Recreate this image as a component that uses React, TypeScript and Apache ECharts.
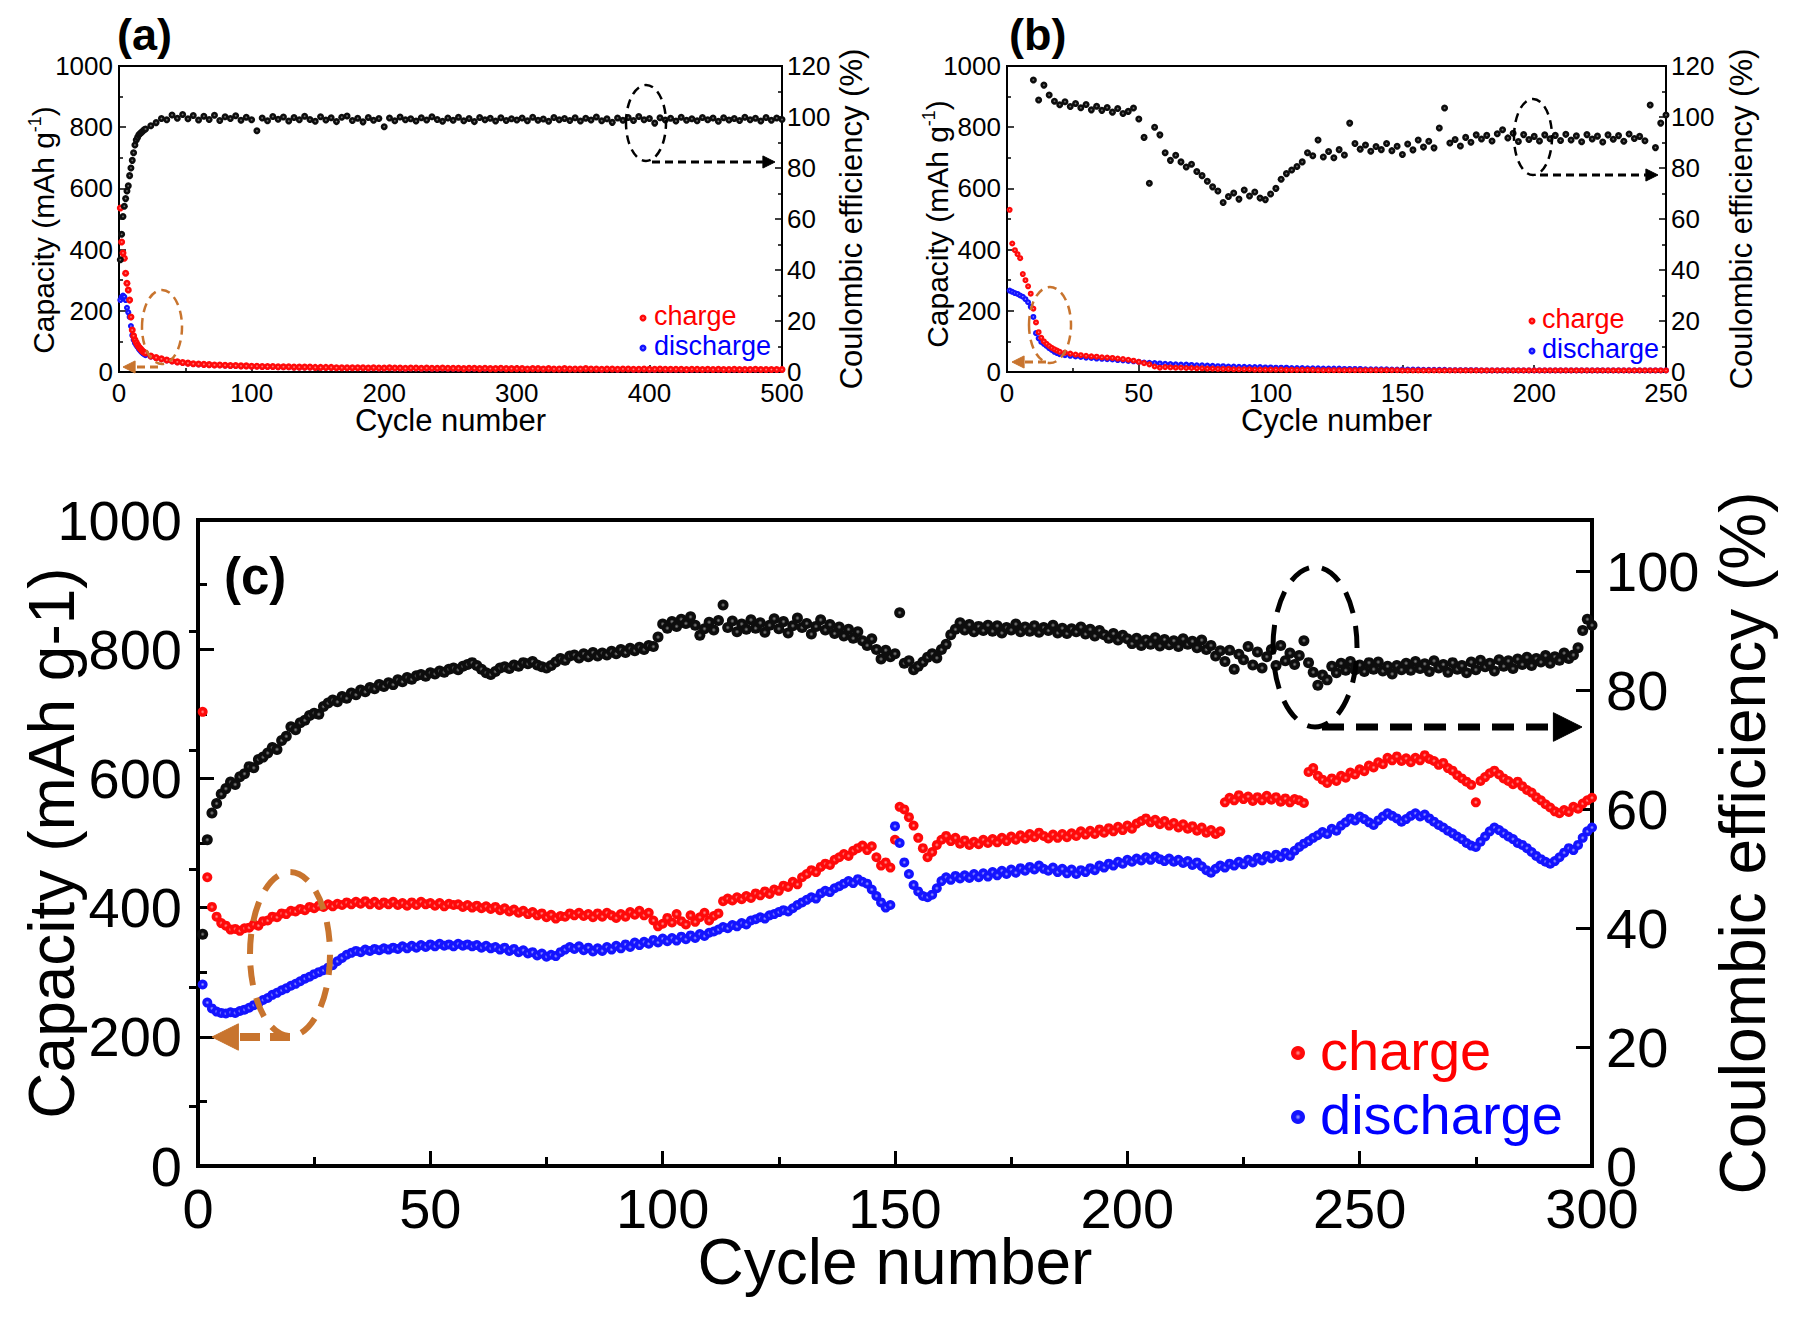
import React, { useEffect, useRef } from "react";
import * as echarts from "echarts";

// ---------------- Panel (a): 500 cycles ----------------
const aEarlyCE = [44, 54, 61, 65, 68, 71, 73, 77, 80, 83, 86, 89, 91, 92, 93, 93.5, 94, 94.5, 95, 95.3];
const aLateCE = [
  96.6, 97.8, 99.4, 98.9, 100.8, 99.5, 101.0, 99.3, 100.6, 98.8,
  100.3, 99.0, 100.7, 98.6, 100.1, 99.4, 100.5, 98.7, 99.9, 98.9,
  94.6, 99.6, 98.5, 100.2, 99.1, 100.0, 98.4, 99.8, 98.9, 100.3,
  99.0, 98.3, 100.1, 98.8, 99.7, 98.2, 99.9, 100.4, 98.6, 99.5,
  98.1, 99.8, 98.7, 99.4, 96.2, 99.6, 98.5, 100.0, 98.9, 99.3,
  98.4, 99.7, 98.8, 100.1, 99.0, 98.3, 99.6, 98.7, 99.9, 98.5,
  99.4, 98.2, 99.8, 98.9, 99.5, 98.4, 99.7, 98.6, 99.3, 98.8,
  99.6, 98.5, 99.9, 98.7, 99.2, 98.3, 99.8, 98.9, 99.4, 98.6,
  99.7, 98.4, 99.5, 98.8, 100.0, 98.5, 99.3, 97.9, 99.6, 98.7,
  99.8, 98.6, 100.2, 98.9, 99.4, 97.6, 99.7, 98.8, 99.5, 98.4,
  99.9, 98.7, 99.3, 98.5, 99.8, 98.9, 99.6, 98.3, 99.7, 98.8,
  99.4, 98.6, 99.9, 98.9, 99.5, 98.4, 99.8, 98.7, 99.6, 99.0,
];
const aEarlyCharge = [536, 425, 389, 372, 323, 290, 268, 235, 180, 137, 118, 105, 96, 88, 82, 77, 72, 67, 64, 62];
const aLateCharge = [
  52, 47, 43, 39, 36, 33, 31, 29, 27, 26,
  25, 24, 23, 23, 22, 21, 21, 20, 20, 19,
  19, 18, 18, 18, 17, 17, 17, 16, 16, 16,
  16, 15, 15, 15, 15, 14, 14, 14, 14, 14,
  14, 13, 14, 13, 13, 14, 13, 13, 12, 13,
  13, 12, 13, 12, 12, 13, 12, 12, 12, 11,
  12, 12, 11, 12, 11, 11, 12, 11, 11, 11,
  11, 10, 11, 11, 10, 11, 10, 10, 11, 10,
  10, 10, 11, 10, 10, 9, 10, 10, 9, 10,
  10, 9, 9, 10, 9, 9, 10, 9, 9, 9,
  9, 8, 9, 9, 8, 9, 8, 9, 8, 8,
  9, 8, 8, 8, 9, 8, 8, 8, 8, 8,
];
const aEarlyDischarge = [235, 245, 250, 246, 235, 210, 195, 180, 150, 120, 105, 95, 88, 82, 75, 70, 65, 61, 58, 55];
const aLateDischarge = [
  50, 46, 42, 38, 35, 32, 30, 28, 26, 25,
  24, 23, 22, 22, 21, 20, 20, 19, 19, 18,
  18, 17, 17, 17, 16, 16, 16, 15, 15, 15,
  15, 14, 14, 14, 14, 13, 13, 13, 13, 13,
  13, 12, 13, 12, 12, 13, 12, 12, 11, 12,
  12, 11, 12, 11, 11, 12, 11, 11, 11, 10,
  11, 11, 10, 11, 10, 10, 11, 10, 10, 10,
  10, 9, 10, 10, 9, 10, 9, 9, 10, 9,
  9, 9, 10, 9, 9, 8, 9, 9, 8, 9,
  9, 8, 8, 9, 8, 8, 9, 8, 8, 8,
  8, 7, 8, 8, 7, 8, 7, 8, 7, 7,
  8, 7, 7, 7, 8, 7, 7, 7, 7, 7,
];

// ---------------- Panel (b): 250 cycles ----------------
const bCE = [
  114.5, 106.7, 112.5, 108.6, 106.2, 104.8, 106.0, 104.1, 105.3, 103.6,
  104.9, 102.8, 104.2, 102.6, 103.7, 101.9, 103.3, 101.4, 102.2, 103.5,
  99.2, 92.0, 74.0, 96.0, 93.0, 86.0, 83.0, 85.0, 82.4, 80.4,
  81.5, 78.6, 77.0, 74.8, 72.6, 71.0, 66.5, 68.8, 70.2, 67.8,
  71.4, 69.0, 70.6, 68.2, 67.6, 69.8, 72.0, 75.6, 77.8, 79.2,
  80.6, 82.4, 86.0, 84.8, 91.0, 84.3, 86.5, 84.0, 87.2, 85.1,
  97.6, 89.6, 87.4, 89.0, 86.6, 88.4, 87.2, 89.6, 86.8, 88.5,
  85.3, 89.4, 87.1, 91.0, 88.2, 90.5, 87.9, 95.7, 103.5, 89.8,
  91.2, 88.6, 92.0, 90.1, 93.0, 91.4, 92.8, 90.6, 93.4, 95.0,
  91.8, 93.6, 90.4, 93.1, 91.2, 92.4, 90.6, 93.0, 91.5, 92.8,
  90.8, 93.2, 91.0, 92.6, 90.3, 93.1, 91.4, 92.5, 90.2, 93.0,
  91.3, 92.7, 90.5, 93.3, 91.6, 92.4, 90.7, 104.7, 88.0, 97.6,
  100.8,
];
const bEarlyCharge = [530, 420, 398, 385, 372, 320, 300, 280, 256, 207, 162, 130, 112, 100, 92, 85, 79, 74, 70, 66];
const bLateCharge = [
  63, 60, 57, 55, 53, 51, 50, 48, 47, 46,
  44, 42, 40, 37, 33, 29, 25, 18, 14, 16,
  15, 14, 14, 13, 13, 12, 12, 11, 11, 10,
  10, 10, 9, 9, 9, 9, 8, 8, 8, 8,
  8, 8, 7, 7, 7, 7, 7, 7, 6, 6,
  6, 6, 6, 6, 6, 6, 6, 6, 6, 6,
  6, 6, 6, 6, 5, 5, 5, 5, 5, 5,
  5, 5, 5, 5, 5, 5, 5, 5, 5, 5,
  5, 5, 5, 5, 5, 5, 5, 5, 5, 5,
  5, 5, 5, 5, 5, 5, 5, 5, 5, 5,
  5, 5, 5, 5, 5, 5, 5, 5, 5, 5,
  5, 5, 5, 5, 5,
];
const bEarlyDischarge = [266, 262, 258, 255, 250, 246, 238, 228, 213, 180, 127, 110, 98, 92, 85, 78, 72, 66, 62, 58];
const bLateDischarge = [
  55, 53, 51, 49, 47, 46, 44, 43, 42, 41,
  39, 38, 36, 35, 33, 31, 30, 29, 28, 27,
  26, 25, 24, 24, 23, 22, 22, 21, 20, 19,
  19, 18, 18, 17, 17, 16, 16, 16, 15, 15,
  14, 14, 14, 13, 13, 13, 12, 12, 12, 11,
  11, 11, 11, 10, 10, 10, 10, 9, 9, 9,
  9, 9, 8, 8, 8, 8, 8, 8, 7, 7,
  7, 7, 7, 6, 6, 6, 6, 6, 6, 5,
  5, 5, 5, 5, 5, 5, 5, 5, 5, 5,
  5, 5, 5, 5, 5, 5, 5, 5, 5, 5,
  5, 5, 5, 5, 5, 5, 5, 5, 5, 5,
  5, 5, 5, 5, 5,
];

// ---------------- Panel (c): 300 cycles, one value per cycle ----------------
const cCharge = [
  703, 447, 401, 386, 376, 372, 366, 367, 364, 368,
  369, 374, 372, 379, 380, 386, 385, 391, 390, 395,
  394, 398, 396, 401, 399, 403, 401, 405, 402, 406,
  404, 408, 405, 409, 406, 410, 405, 409, 404, 408,
  405, 409, 404, 407, 403, 408, 404, 409, 405, 407,
  403, 407, 402, 406, 404, 405, 401, 404, 400, 403,
  399, 402, 398, 401, 396, 399, 394, 397, 392, 395,
  390, 393, 388, 391, 385, 389, 383, 387, 386, 391,
  388, 392, 387, 390, 385, 391, 386, 392, 388, 384,
  390, 386, 393, 389, 395, 388, 392, 380, 371, 375,
  384, 377, 390, 379, 374, 388, 378, 385, 392, 380,
  387, 391, 410, 414, 411, 416, 413, 418, 415, 422,
  419, 425, 421, 428, 426, 434, 432, 440, 436, 447,
  452, 458, 455, 463, 468, 466, 474, 478, 483, 480,
  488, 492, 496, 489, 495, 478, 465, 470, 462, 505,
  556, 552, 540, 527, 508, 492, 478, 486, 497, 505,
  511, 503, 508, 499, 504, 497, 502, 498, 505, 500,
  506, 501, 508, 503, 510, 505, 512, 507, 514, 509,
  516, 511, 507, 513, 508, 514, 509, 515, 511, 518,
  513, 519, 514, 521, 516, 523, 518, 525, 520, 527,
  522, 530, 534, 538, 532, 536, 529, 534, 527, 531,
  524, 529, 522, 526, 519, 524, 516, 520, 514, 518,
  563, 570, 566, 574, 568, 572, 565, 571, 566, 573,
  567, 571, 564, 569, 563, 568, 566, 562, 610, 616,
  604, 598, 593, 600, 596, 604, 601, 609, 606, 614,
  611, 620, 617, 625, 622, 632, 628, 634, 627, 631,
  625, 632, 628, 636, 630, 627, 621, 624, 616, 612,
  605, 600, 595, 590, 563, 596, 602, 608, 612, 606,
  600, 596, 591, 595, 588, 582, 578, 571, 566, 560,
  555, 549, 546, 551, 548, 556, 553, 561, 566, 570,
];
const cDischarge = [
  281, 253, 244, 239, 237, 236, 238, 237, 240, 242,
  245, 249, 252, 257, 260, 265, 268, 272, 275, 279,
  282, 286, 290, 293, 297, 300, 303, 307, 311, 317,
  322, 327, 330, 333, 331, 335, 333, 336, 334, 337,
  335, 338, 336, 340, 337, 341, 338, 342, 339, 343,
  340, 344, 341, 343, 340, 344, 341, 343, 340, 342,
  338, 341, 337, 339, 335, 338, 333, 336, 331, 334,
  329, 331, 326, 329, 324, 327, 325, 331, 335, 339,
  336, 340, 334, 338, 332, 337, 333, 339, 335, 341,
  337, 343, 339, 346, 342, 347, 344, 350, 346, 352,
  348, 353, 349, 355, 351, 357, 353, 359, 356, 361,
  363, 366, 370, 368, 373, 371, 376, 374, 380, 382,
  385, 383, 388, 390, 393, 396, 394, 399, 404, 408,
  412, 416, 414, 422, 426, 424, 430, 433, 437, 441,
  438, 444, 440, 437, 428, 418, 408, 400, 404, 526,
  500, 470, 452, 435, 425, 418, 416, 420, 430, 441,
  447, 443, 449, 445, 450, 446, 452, 447, 453, 448,
  455, 450, 457, 452, 459, 454, 461, 457, 463, 459,
  465, 460, 457, 462, 455, 460, 453, 459, 452, 458,
  455, 461, 458, 465, 462, 468, 465, 471, 468, 474,
  471, 476, 473, 478, 474, 479, 475, 472, 476, 471,
  474, 469, 472, 466, 470, 464, 458, 454, 460, 465,
  462, 468, 465, 471, 467, 474, 470, 477, 473, 480,
  476, 482, 478, 485, 480, 488, 494, 499, 503, 508,
  512, 517, 514, 522, 519, 527, 532, 538, 535, 541,
  537, 532, 528, 535, 541, 546, 542, 538, 533, 537,
  542, 546, 541, 544, 538, 533, 528, 524, 519, 515,
  510, 506, 500, 496, 494, 502, 510, 518, 524, 520,
  515, 510, 506, 500, 497, 492, 486, 480, 475, 471,
  468, 472, 478, 485, 492, 489, 497, 508, 518, 524,
];
const cCE = [
  39.0, 54.9, 59.4, 61.0, 62.6, 63.5, 64.6, 64.2, 65.5, 66.0,
  67.2, 67.0, 68.4, 68.8, 69.5, 70.4, 70.1, 71.6, 72.3, 73.9,
  73.4, 74.6, 75.0, 75.8, 76.2, 76.0, 77.3, 77.9, 78.4, 78.1,
  79.0, 78.7, 79.6, 79.3, 80.1, 79.8, 80.5, 80.3, 81.0, 80.7,
  81.3, 81.0, 81.8, 81.5, 82.2, 81.9, 82.5, 82.7, 82.4, 83.0,
  82.8, 83.3, 83.1, 83.6, 83.8, 83.5, 84.1, 84.4, 84.7, 84.2,
  83.6, 83.0, 82.7, 83.2, 83.8, 84.0, 83.7, 84.3, 84.1, 84.7,
  84.5, 84.9, 84.3, 84.0, 83.8, 84.2, 84.8, 85.4, 85.1, 85.8,
  86.0, 85.5, 86.2, 85.7, 86.4, 85.8, 86.3, 86.0, 86.6, 86.2,
  86.9, 86.4, 87.1, 86.7, 87.3, 86.9, 87.6, 87.4, 89.0, 91.2,
  90.5, 91.6, 90.8, 92.0, 91.3, 92.4, 91.0, 89.3, 90.4, 91.5,
  90.2, 91.8, 94.4, 90.6, 91.7, 89.9, 91.2, 90.3, 91.9, 90.5,
  91.4, 89.8, 91.0, 92.1, 90.4, 91.6, 89.7, 90.9, 92.2, 90.6,
  91.3, 89.5, 90.8, 91.9, 90.2, 91.1, 89.6, 90.7, 89.2, 90.3,
  88.8, 89.9, 88.4, 87.6, 88.7, 86.9, 85.3, 86.8, 85.7, 86.2,
  93.1, 84.6, 85.0, 83.5, 84.1, 84.8, 85.6, 86.2, 85.5, 86.9,
  87.8, 89.4, 90.3, 91.4, 90.2, 91.1, 89.9, 90.8, 90.1, 91.0,
  90.0, 90.9, 89.7, 90.6, 90.2, 91.2, 89.9, 90.7, 90.0, 90.9,
  89.8, 90.6, 90.1, 91.0, 89.7, 90.5, 89.6, 90.4, 89.9, 90.7,
  89.5, 90.3, 89.2, 90.1, 89.4, 88.8, 89.6, 88.5, 89.3, 88.7,
  87.9, 88.8, 87.6, 88.5, 87.8, 88.9, 87.5, 88.6, 87.7, 88.4,
  87.4, 88.7, 87.8, 88.3, 87.2, 88.5, 86.9, 87.6, 85.8, 86.7,
  84.9, 86.8, 83.6, 86.1, 85.2, 87.4, 84.3, 86.5, 83.8, 85.7,
  86.9, 84.2, 87.6, 85.0, 86.3, 84.4, 85.9, 88.4, 84.7, 83.1,
  80.9, 82.6, 81.8, 84.1, 83.0, 84.6, 83.4, 84.9, 83.5, 84.3,
  83.2, 84.7, 83.6, 84.8, 83.3, 84.1, 82.8, 84.2, 83.5, 84.6,
  83.4, 84.9, 83.7, 84.5, 83.2, 85.0, 83.8, 84.4, 83.1, 84.7,
  83.6, 84.2, 83.0, 84.8, 83.5, 85.1, 84.0, 84.6, 83.3, 85.2,
  84.1, 85.0, 83.7, 85.3, 84.4, 85.6, 84.2, 85.4, 84.8, 85.9,
  84.6, 85.7, 85.1, 86.3, 85.4, 86.0, 87.2, 90.1, 92.0, 91.0,
];

// tick values
const capTicks = [0, 200, 400, 600, 800, 1000];
const ceTicksC = [0, 20, 40, 60, 80, 100];
const ceMinorC = [10, 30, 50, 70, 90];

const FONT = '"Liberation Sans", Arial, Helvetica, sans-serif';

// x positions for each stored value (cycle numbers)
const seq = (start: number, step: number, vals: number[]) => vals.map((v, i) => [start + i * step, v]);
const plain = (v: number) => String(v);

const ball = (inner: string, outer: string) => ({
  type: "radial",
  x: 0.5,
  y: 0.5,
  r: 0.5,
  colorStops: [
    { offset: 0, color: inner },
    { offset: 0.4, color: outer },
    { offset: 1, color: outer },
  ],
});
const RED = ball("#ff9c9c", "#ff0a0a");
const BLUE = ball("#a8a8ff", "#1414ff");
const BLACK = ball("#8a8a8a", "#0d0d0d");

function xAx(grid: number, max: number, interval: number, small: boolean) {
  const lw = small ? 2 : 4;
  return {
    type: "value",
    gridIndex: grid,
    min: 0,
    max,
    interval,
    axisLine: { show: true, onZero: false, lineStyle: { color: "#000", width: lw } },
    axisTick: { show: true, inside: true, length: small ? 7 : 15, lineStyle: { color: "#000", width: small ? 1.5 : 3 } },
    minorTick: { show: true, splitNumber: 2, length: small ? 4 : 9, lineStyle: { color: "#000", width: small ? 1.5 : 3 } },
    splitLine: { show: false },
    minorSplitLine: { show: false },
    axisLabel: { color: "#000", fontSize: small ? 26 : 56, fontFamily: FONT, margin: small ? 8 : 14, formatter: plain },
    name: "Cycle number",
    nameLocation: "middle",
    nameMoveOverlap: false,
    nameGap: small ? 33 : 64,
    nameTextStyle: { color: "#000", fontSize: small ? 31 : 64, fontFamily: FONT },
  };
}

function capAx(grid: number, small: boolean, gap: number, pad: number) {
  const lw = small ? 2 : 4;
  const name = small ? "{t|Capacity (mAh g}{s|-1}{t|)}" : "Capacity (mAh g-1)";
  return {
    type: "value",
    gridIndex: grid,
    position: "left",
    min: 0,
    max: 1000,
    interval: 200,
    axisLine: { show: true, onZero: false, lineStyle: { color: "#000", width: lw } },
    axisTick: { show: true, inside: true, length: small ? 7 : 16, lineStyle: { color: "#000", width: small ? 1.5 : 3 } },
    minorTick: { show: true, splitNumber: 2, length: small ? 4 : 9, lineStyle: { color: "#000", width: small ? 1.5 : 3 } },
    splitLine: { show: false },
    minorSplitLine: { show: false },
    axisLabel: { color: "#000", fontSize: small ? 26 : 56, fontFamily: FONT, margin: small ? 6 : 16, customValues: capTicks, formatter: plain },
    name,
    nameLocation: "middle",
    nameRotate: 90,
    nameMoveOverlap: false,
    nameGap: gap,
    nameTextStyle: {
      color: "#000",
      fontSize: small ? 30 : 64,
      fontFamily: FONT,
      padding: [0, pad, 0, 0],
      rich: small
        ? {
            t: { fontSize: 30, fontFamily: FONT, color: "#000", lineHeight: 34 },
            s: { fontSize: 18, fontFamily: FONT, color: "#000", lineHeight: 18, verticalAlign: "top" },
          }
        : undefined,
    },
  };
}

function ceAx(grid: number, small: boolean, gap: number) {
  const lw = small ? 2 : 4;
  const max = small ? 120 : 108.7;
  return {
    type: "value",
    gridIndex: grid,
    position: "right",
    min: 0,
    max,
    interval: 20,
    axisLine: { show: true, onZero: false, lineStyle: { color: "#000", width: lw } },
    axisTick: {
      show: true,
      inside: true,
      length: small ? 7 : 16,
      lineStyle: { color: "#000", width: small ? 1.5 : 3 },
      customValues: small ? undefined : ceTicksC,
    },
    minorTick: { show: small, splitNumber: 2, length: 4, lineStyle: { color: "#000", width: 1.5 } },
    splitLine: { show: false },
    minorSplitLine: { show: false },
    axisLabel: {
      color: "#000",
      fontSize: small ? 26 : 56,
      fontFamily: FONT,
      margin: small ? 5 : 14,
      customValues: small ? undefined : ceTicksC,
      formatter: (v: number) => (v % 20 === 0 ? String(v) : ""),
    },
    name: "Coulombic efficiency (%)",
    nameLocation: "middle",
    nameRotate: 90,
    nameMoveOverlap: false,
    nameGap: gap,
    nameTextStyle: { color: "#000", fontSize: small ? 31 : 64, fontFamily: FONT },
  };
}

function scatter(name: string, xi: number, yi: number, data: number[][], color: any, size: number, z: number) {
  return {
    name,
    type: "scatter",
    xAxisIndex: xi,
    yAxisIndex: yi,
    data,
    symbol: "circle",
    symbolSize: size,
    itemStyle: { color, opacity: 1 },
    silent: true,
    z,
  };
}

function dashedOval(cx: number, cy: number, rx: number, ry: number, color: string, lw: number, dash: number[]) {
  return { type: "ellipse", z: 100, shape: { cx, cy, rx, ry }, style: { fill: "none", stroke: color, lineWidth: lw, lineDash: dash } };
}
function arrow(x1: number, x2: number, y: number, color: string, lw: number, dash: number[], head: number) {
  const dir = x2 > x1 ? 1 : -1;
  const base = x2 - dir * head * 1.1;
  return [
    { type: "polyline", z: 100, shape: { points: [[x1, y], [base, y]] }, style: { stroke: color, lineWidth: lw, lineDash: dash, fill: "none" } },
    { type: "polygon", z: 100, shape: { points: [[x2, y], [base, y - head * 0.55], [base, y + head * 0.55]] }, style: { fill: color, stroke: color } },
  ];
}
function label(x: number, y: number, text: string, size: number, color: string, bold = false) {
  return {
    type: "text",
    z: 100,
    x,
    y,
    style: {
      text,
      fill: color,
      fontSize: size,
      fontFamily: FONT,
      fontWeight: bold ? "bold" : "normal",
      align: "left",
      verticalAlign: "middle",
      textAlign: "left",
      textVerticalAlign: "middle",
    },
  };
}
function dot(cx: number, cy: number, r: number, color: any) {
  return { type: "circle", z: 100, shape: { cx, cy, r }, style: { fill: color } };
}

const ORANGE = "#C8742E";
const gridBase = { show: true, borderColor: "#000", backgroundColor: "transparent", containLabel: false, outerBoundsMode: "none" };

export default function App() {
  const ref = useRef<HTMLDivElement>(null);
  useEffect(() => {
    if (!ref.current) return;
    const chart = echarts.init(ref.current, null, { renderer: "svg" });

    const option: any = {
      animation: false,
      backgroundColor: "#fff",
      textStyle: { fontFamily: FONT },
      grid: [
        { ...gridBase, left: 119, top: 66, width: 663, height: 306, borderWidth: 2 },
        { ...gridBase, left: 1007, top: 66, width: 659, height: 306, borderWidth: 2 },
        { ...gridBase, left: 198, top: 520, width: 1394, height: 646, borderWidth: 4 },
      ],
      xAxis: [xAx(0, 500, 100, true), xAx(1, 250, 50, true), xAx(2, 300, 50, false)],
      yAxis: [
        capAx(0, true, 59, 22),
        ceAx(0, true, 54),
        capAx(1, true, 53, 10),
        ceAx(1, true, 60),
        capAx(2, false, 114, 0),
        ceAx(2, false, 119),
        {
          type: "value",
          gridIndex: 2,
          position: "right",
          min: 0,
          max: 108.7,
          axisLine: { show: false },
          axisLabel: { show: false },
          splitLine: { show: false },
          axisTick: { show: true, inside: true, length: 9, customValues: ceMinorC, lineStyle: { color: "#000", width: 3 } },
        },
      ],
      series: [
        scatter("discharge", 0, 0, [...seq(1, 1, aEarlyDischarge), ...seq(24, 4, aLateDischarge)], BLUE, 6, 2),
        scatter("charge", 0, 0, [...seq(1, 1, aEarlyCharge), ...seq(24, 4, aLateCharge)], RED, 7, 3),
        scatter("coulombic efficiency", 0, 1, [...seq(1, 1, aEarlyCE), ...seq(24, 4, aLateCE)], BLACK, 7, 4),

        scatter("discharge", 1, 2, [...seq(1, 1, bEarlyDischarge), ...seq(22, 2, bLateDischarge)], BLUE, 6, 2),
        scatter("charge", 1, 2, [...seq(1, 1, bEarlyCharge), ...seq(22, 2, bLateCharge)], RED, 6, 3),
        scatter("coulombic efficiency", 1, 3, seq(10, 2, bCE), BLACK, 7, 4),

        scatter("coulombic efficiency", 2, 5, seq(1, 1, cCE), BLACK, 11, 2),
        scatter("charge", 2, 4, seq(1, 1, cCharge), RED, 10, 3),
        scatter("discharge", 2, 4, seq(1, 1, cDischarge), BLUE, 10, 4),
      ],
      graphic: [
        // panel labels
        label(117, 34, "(a)", 45, "#000", true),
        label(1009, 34, "(b)", 45, "#000", true),
        label(224, 576, "(c)", 51, "#000", true),
        // legends (a)
        dot(643, 318, 3.5, RED),
        label(654, 316, "charge", 27, "#ff0000"),
        dot(643, 348, 3.5, BLUE),
        label(654, 346, "discharge", 27, "#0000ff"),
        // legends (b)
        dot(1532, 321, 3.5, RED),
        label(1542, 319, "charge", 27, "#ff0000"),
        dot(1532, 351, 3.5, BLUE),
        label(1542, 349, "discharge", 27, "#0000ff"),
        // legends (c)
        dot(1298, 1053, 7, RED),
        label(1320, 1050, "charge", 56, "#ff0000"),
        dot(1298, 1117, 7, BLUE),
        label(1320, 1114, "discharge", 56, "#0000ff"),
        // annotations (a)
        dashedOval(646, 123, 20, 38, "#000", 2.5, [9, 6]),
        ...arrow(652, 775, 162, "#000", 3, [8, 5], 11),
        dashedOval(162, 327, 20, 37, ORANGE, 2.5, [9, 6]),
        ...arrow(158, 123, 367, ORANGE, 3, [8, 5], 11),
        // annotations (b)
        dashedOval(1533, 137, 19, 38, "#000", 2.5, [9, 6]),
        ...arrow(1540, 1658, 175, "#000", 3, [8, 5], 11),
        dashedOval(1050, 325, 21, 38, ORANGE, 2.5, [9, 6]),
        ...arrow(1046, 1012, 362, ORANGE, 3, [8, 5], 11),
        // annotations (c)
        dashedOval(1315, 647, 42, 80, "#000", 5, [22, 13]),
        ...arrow(1322, 1582, 727, "#000", 7, [22, 12], 26),
        dashedOval(290, 954, 40, 82, ORANGE, 6, [20, 13]),
        ...arrow(290, 212, 1037, ORANGE, 8, [20, 10], 24),
      ],
    };

    chart.setOption(option);
    return () => chart.dispose();
  }, []);

  return <div ref={ref} style={{ position: "absolute", left: 0, top: 0, width: 1805, height: 1337 }} />;
}
